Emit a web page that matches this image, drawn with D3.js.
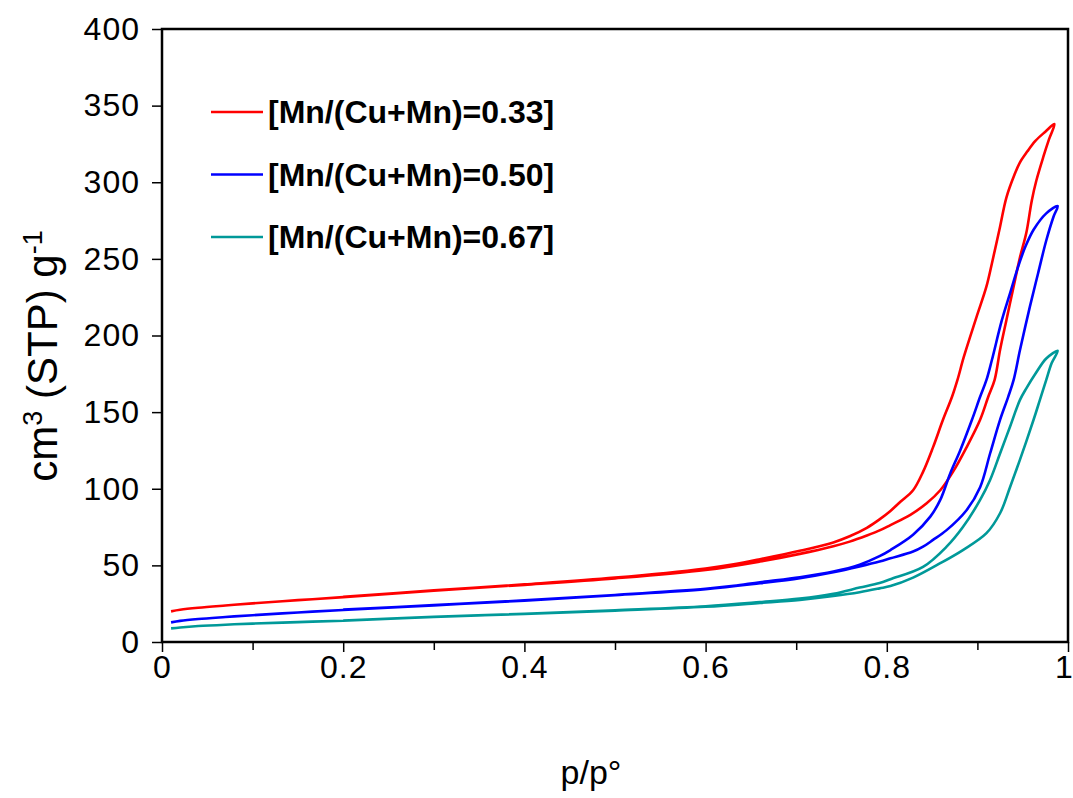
<!DOCTYPE html>
<html><head><meta charset="utf-8">
<script src="https://cdn.jsdelivr.net/npm/d3@7/dist/d3.min.js"></script>
<style>body{margin:0;background:#fff}</style>
</head><body>
<svg id="chart" width="1073" height="798"></svg>
<script>
// ---- data ----
const seriesNames = ["[Mn/(Cu+Mn)=0.33]", "[Mn/(Cu+Mn)=0.50]", "[Mn/(Cu+Mn)=0.67]"];
const seriesColors = ["#ff0000", "#0000ff", "#009999"];

const adsorption033 = [[0.01,20],[0.02,21],[0.04,22.3],[0.07,23.8],[0.1,25.2],[0.15,27.3],[0.2,29.3],[0.3,33.5],[0.4,37.3],[0.5,41.5],[0.6,47],[0.66,52.5],[0.704,57.5],[0.741,62.5],[0.759,65.5],[0.778,69.5],[0.792,72.8],[0.804,76.3],[0.826,83],[0.844,90.5],[0.859,99],[0.873,111],[0.888,127],[0.903,145],[0.912,160],[0.919,171],[0.925,190.5],[0.932,210],[0.940,232],[0.947,251],[0.954,267],[0.960,288],[0.965,301],[0.973,317],[0.979,328],[0.985,338]];
const desorption033 = [[0.985,338],[0.975,333],[0.964,327],[0.955,320],[0.947,313],[0.941,305],[0.932,290],[0.925,271],[0.916,247],[0.910,232],[0.899,212],[0.885,186],[0.878,171],[0.872,160],[0.862,145],[0.851,127],[0.840,111],[0.829,99],[0.815,91.5],[0.804,85.5],[0.792,80],[0.778,74.5],[0.759,69],[0.741,65],[0.704,59.5],[0.66,54],[0.631,50.7],[0.6,48],[0.5,42],[0.4,37.6],[0.3,33.7],[0.2,29.5]];

const adsorption050 = [[0.01,12.8],[0.02,13.8],[0.04,15],[0.07,16.3],[0.1,17.5],[0.15,19.3],[0.2,20.9],[0.3,23.9],[0.4,27],[0.5,30.5],[0.6,34.4],[0.66,38.3],[0.704,41.6],[0.741,45.5],[0.770,49.3],[0.792,52.5],[0.804,54.6],[0.829,59],[0.840,62.2],[0.851,66.6],[0.866,73],[0.888,86],[0.903,101],[0.914,123],[0.925,145],[0.934,160],[0.940,171],[0.947,190.5],[0.958,219],[0.967,240.6],[0.976,262],[0.984,277.5],[0.9886,284.5]];
const desorption050 = [[0.9886,284.5],[0.976,279.7],[0.962,269],[0.953,258],[0.945,245],[0.936,227.5],[0.927,210],[0.916,184],[0.910,171],[0.903,160],[0.894,145],[0.881,125],[0.870,110],[0.859,92.7],[0.848,81.8],[0.829,70],[0.804,60],[0.792,56],[0.770,50.5],[0.741,46],[0.704,42.3],[0.66,39],[0.631,36.6],[0.6,34.7],[0.5,30.7],[0.4,27.2],[0.3,24.1],[0.2,21.1]];

const adsorption067 = [[0.01,8.9],[0.02,9.5],[0.04,10.4],[0.07,11.3],[0.1,12],[0.15,13],[0.2,13.9],[0.3,16.3],[0.4,18.3],[0.5,20.5],[0.6,23],[0.66,25.5],[0.704,27.5],[0.741,30],[0.770,32.5],[0.792,35],[0.804,36.5],[0.829,42],[0.859,51.4],[0.884,60],[0.910,71],[0.925,84],[0.936,101],[0.947,119],[0.962,145],[0.969,158],[0.976,171],[0.982,182],[0.9886,190]];
const desorption067 = [[0.9886,190],[0.976,185],[0.964,175],[0.954,165.5],[0.947,158],[0.936,140.5],[0.925,123],[0.914,105.7],[0.903,92.7],[0.884,75],[0.866,62.2],[0.840,49],[0.804,41],[0.792,38.5],[0.770,35.5],[0.741,31.5],[0.704,28.3],[0.66,26],[0.6,23.3],[0.5,20.7],[0.4,18.4],[0.3,16.4],[0.2,14]];

const xTickValues = [0, 0.2, 0.4, 0.6, 0.8, 1];
const xTickLabels = ["0", "0.2", "0.4", "0.6", "0.8", "1"];
const xMinorTicks = [0.1, 0.3, 0.5, 0.7, 0.9];
const yTickValues = [0, 50, 100, 150, 200, 250, 300, 350, 400];

// ---- layout ----
const svg = d3.select("#chart");
const L = 162, R = 1068, T = 29, B = 642;
const x = d3.scaleLinear().domain([0, 1]).range([L, R]);
const y = d3.scaleLinear().domain([0, 400]).range([B, T]);
const font = "Arial, 'Liberation Sans', sans-serif";

const series = [
  {name: seriesNames[0], color: seriesColors[0], ads: adsorption033, des: desorption033},
  {name: seriesNames[1], color: seriesColors[1], ads: adsorption050, des: desorption050},
  {name: seriesNames[2], color: seriesColors[2], ads: adsorption067, des: desorption067}
];

// axes
const xAxis = d3.axisBottom(x).tickValues(xTickValues).tickSize(10).tickPadding(3)
  .tickFormat((d, i) => xTickLabels[i]);
const gx = svg.append("g").attr("transform", `translate(0,${B})`).call(xAxis);
const xMinor = d3.axisBottom(x).tickValues(xMinorTicks).tickSize(8).tickFormat("");
const gxm = svg.append("g").attr("transform", `translate(0,${B})`).call(xMinor);

const yAxis = d3.axisLeft(y).tickValues(yTickValues).tickSize(10).tickPadding(12);
const gy = svg.append("g").attr("transform", `translate(${L},0)`).call(yAxis);

[gx, gy, gxm].forEach(g => {
  g.selectAll(".domain").remove();
  g.selectAll(".tick line").attr("stroke", "#000").attr("stroke-width", 1.5);
  g.selectAll(".tick text").attr("fill", "#000").style("font-family", font)
    .style("font-size", "32px").style("letter-spacing", "1px");
});
// keep the last x label inside the picture
gx.selectAll(".tick text").filter((d) => d === 1).attr("dx", -4);

// plot frame
svg.append("rect").attr("x", L).attr("y", T).attr("width", R - L).attr("height", B - T)
  .attr("fill", "none").attr("stroke", "#000").attr("stroke-width", 2.5);

// curves
const line = d3.line().x(d => x(d[0])).y(d => y(d[1])).curve(d3.curveCatmullRom.alpha(0.5));
svg.append("g").selectAll("path").data(series).join("path")
  .attr("d", s => line(s.ads.concat(s.des.slice(1))))
  .attr("fill", "none").attr("stroke", s => s.color).attr("stroke-width", 2.6)
  .attr("stroke-linejoin", "round");

// legend
const leg = svg.append("g");
series.forEach((s, i) => {
  const ly = 112 + i * 62.5;
  leg.append("line").attr("x1", 211).attr("x2", 263).attr("y1", ly).attr("y2", ly)
    .attr("stroke", s.color).attr("stroke-width", 2.6);
  leg.append("text").attr("x", 268).attr("y", ly + 11).text(s.name)
    .style("font-family", font).style("font-weight", "bold").style("font-size", "32px").attr("fill", "#000");
});

// axis titles
svg.append("text").attr("x", 591).attr("y", 784).attr("text-anchor", "middle")
  .style("font-family", font).style("font-size", "34px").text("p/p°");

const yt = svg.append("text").attr("transform", "translate(57,356) rotate(-90)").attr("text-anchor", "middle")
  .style("font-family", font).style("font-size", "42px");
yt.append("tspan").text("cm");
yt.append("tspan").attr("dy", -15).style("font-size", "27px").text("3");
yt.append("tspan").attr("dy", 15).text(" (STP) g");
yt.append("tspan").attr("dy", -15).style("font-size", "27px").text("-1");
</script>
</body></html>
